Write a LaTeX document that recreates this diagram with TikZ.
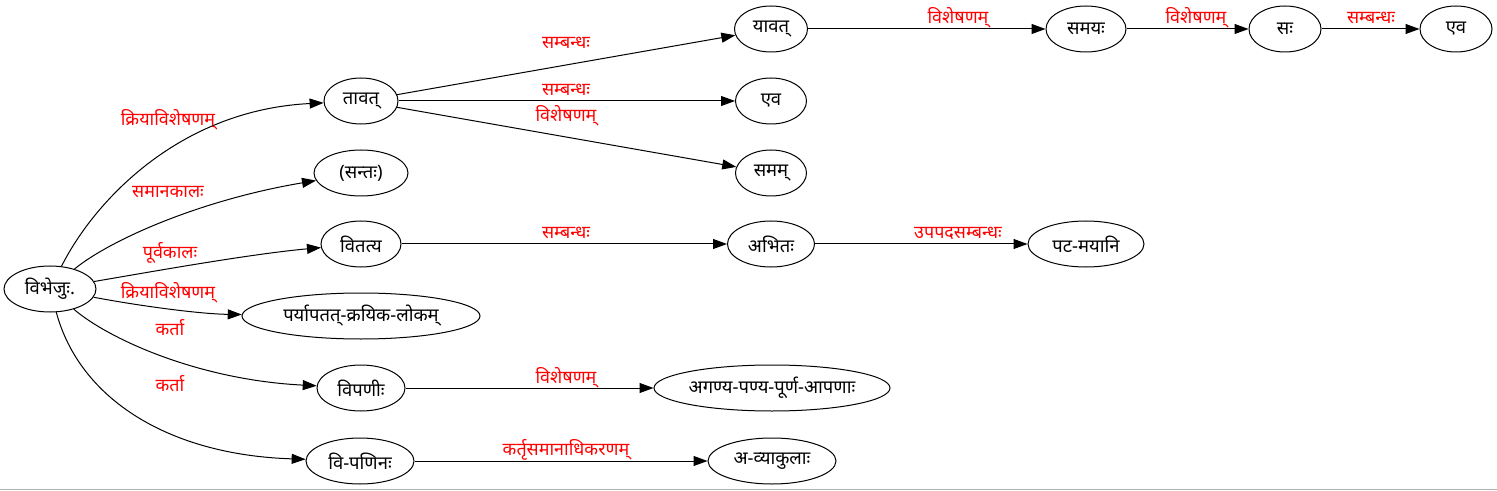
\documentclass[tikz,border=0pt]{standalone}
\usepackage{fontspec}
\newfontfamily\deva[Script=Devanagari]{Noto Sans}
\usetikzlibrary{shapes.geometric,arrows.meta}
\newcommand{\nzb}[1]{\makebox[0pt]{#1}}
\begin{document}
\begin{tikzpicture}[x=1bp,y=-1bp,
  nd/.style={draw, ellipse, line width=1bp, inner sep=0pt, minimum height=46bp, font=\deva\fontsize{18.5}{21}\selectfont},
  lb/.style={text=red, inner sep=0pt, font=\deva\fontsize{18}{21}\selectfont},
  ed/.style={-{Triangle[length=14bp,width=10bp]}, line width=1bp}]
\useasboundingbox (0,0) rectangle (1497,491);
\draw[gray!60, line width=1.5bp] (0,489.5) -- (1497,489.5);
% nodes
\node[nd, minimum width=92bp] (vibh) at (50,289) {\nzb{विभेजुः.}};
\node[nd, minimum width=74bp] (taavat) at (361,101) {\nzb{तावत्}};
\node[nd, minimum width=94bp] (santah) at (361,173) {\nzb{(सन्तः)}};
\node[nd, minimum width=80bp] (vitatya) at (361,244) {\nzb{वितत्य}};
\node[nd, minimum width=238bp] (paryaa) at (361,316) {\nzb{पर्यापतत्-क्रयिक-लोकम्}};
\node[nd, minimum width=88bp] (vipanih) at (361,388) {\nzb{विपणीः}};
\node[nd, minimum width=108bp] (vipaninah) at (360,461) {\nzb{वि-पणिनः}};
\node[nd, minimum width=73bp] (yaavat) at (771,29) {\nzb{यावत्}};
\node[nd, minimum width=71bp] (evaA) at (771,101) {\nzb{एव}};
\node[nd, minimum width=71bp] (samam) at (771,173) {\nzb{समम्}};
\node[nd, minimum width=87bp] (abhitah) at (771,244) {\nzb{अभितः}};
\node[nd, minimum width=236bp] (aganya) at (772,388) {\nzb{अगण्य-पण्य-पूर्ण-आपणाः}};
\node[nd, minimum width=128bp] (avyaakulaah) at (772,461) {\nzb{अ-व्याकुलाः}};
\node[nd, minimum width=80bp] (samayah) at (1086,29) {\nzb{समयः}};
\node[nd, minimum width=72bp] (sah) at (1285,29) {\nzb{सः}};
\node[nd, minimum width=72bp] (evaB) at (1456,29) {\nzb{एव}};
\node[nd, minimum width=116bp] (patamayaani) at (1086,244) {\nzb{पट-मयानि}};
% edges
\draw[ed] (vibh) .. controls (95,200) and (180,110) .. (taavat);
\draw[ed] (vibh) .. controls (110,240) and (200,200) .. (santah);
\draw[ed] (vibh) .. controls (150,272) and (250,254) .. (vitatya);
\draw[ed] (vibh) .. controls (140,306) and (200,314) .. (paryaa);
\draw[ed] (vibh) .. controls (110,340) and (200,380) .. (vipanih);
\draw[ed] (vibh) .. controls (80,400) and (170,455) .. (vipaninah);
\draw[ed] (taavat) -- (yaavat);
\draw[ed] (taavat) -- (evaA);
\draw[ed] (taavat) -- (samam);
\draw[ed] (vitatya) -- (abhitah);
\draw[ed] (abhitah) -- (patamayaani);
\draw[ed] (vipanih) -- (aganya);
\draw[ed] (vipaninah) -- (avyaakulaah);
\draw[ed] (yaavat) -- (samayah);
\draw[ed] (samayah) -- (sah);
\draw[ed] (sah) -- (evaB);
% labels
\node[lb] (l1) at (168,120) {क्रियाविशेषणम्};
\node[lb] (l2) at (168,192) {समानकालः};
\node[lb] (l3) at (170,253) {पूर्वकालः};
\node[lb] (l4) at (168,293) {क्रियाविशेषणम्};
\node[lb] (l5) at (170,328) {कर्ता};
\node[lb] (l6) at (170,384) {कर्ता};
\node[lb] (l7) at (566,43) {सम्बन्धः};
\node[lb] (l8) at (566,90) {सम्बन्धः};
\node[lb] (l9) at (566,116) {विशेषणम्};
\node[lb] (l10) at (566,233) {सम्बन्धः};
\node[lb] (l11) at (566,378) {विशेषणम्};
\node[lb] (l12) at (566,450) {कर्तृसमानाधिकरणम्};
\node[lb] (l13) at (958,18) {विशेषणम्};
\node[lb] (l14) at (1196,18) {विशेषणम्};
\node[lb] (l15) at (1371,18) {सम्बन्धः};
\node[lb] (l16) at (958,233) {उपपदसम्बन्धः};
\end{tikzpicture}
\end{document}
